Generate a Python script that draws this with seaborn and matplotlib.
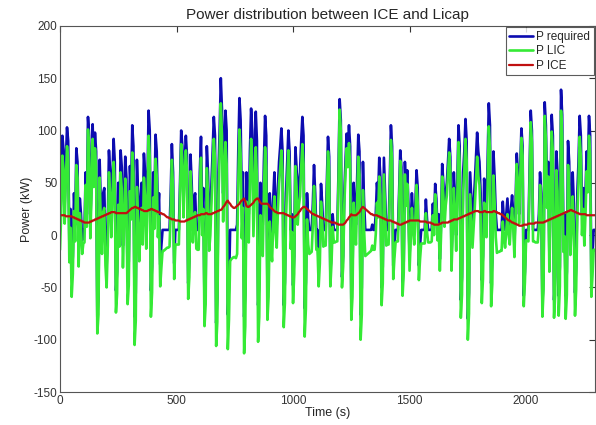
import numpy as np
import pandas as pd
import matplotlib
matplotlib.use("Agg")
import matplotlib.pyplot as plt
import seaborn as sns

# potencia requerida (kW), uma amostra a cada 5 s (uma linha = 100 s)
p_required = [
    5, 40, 95, 82, 30, 70, 103, 90, -8, 25, -41, -20, 40, 10, 83, 70, -15, 35, 20, -5,
    5, 5, 60, 20, 113, 95, 10, 50, 106, 60, 98, 80, -78, -60, 72, 30, 0, 40, 45, -10,
    -30, 10, 81, 60, 20, 55, 92, 70, -53, -35, 50, 10, 81, 65, -10, 30, 75, 55, -44, -25,
    66, 40, 105, 85, -78, -55, 72, 40, 0, 30, 50, 15, 78, 60, 10, 45, 119, 100, -53, -30,
    60, 30, 96, 80, 20, 40, -28, -10, 5, 5, 5, 5, 5, 5, 5, 40, 87, 60, -27, 5,
    5, 5, 5, 50, 100, 85, 30, 70, 95, 75, -46, -25, 77, 50, 10, 35, 40, 5, 5, 5,
    60, 94, 20, 45, -67, -45, 85, 60, 5, 20, 50, 80, 113, 95, -84, -60, 60, 100, 150, 120,
    40, 90, 119, 100, -76, -50, 5, 5, 5, 5, 5, 5, 10, 80, 131, 110, 30, 60, -78, -55,
    60, 30, 20, 80, 121, 100, 30, 75, 118, 90, -67, -45, 50, 20, 10, 70, 114, 95, -51, -30,
    40, 15, 0, 35, 60, 25, 10, 45, 70, 85, 102, 80, -67, -45, 40, 70, 100, 80, 5, 20,
    -48, -20, 84, 65, 30, 50, 60, 90, 113, 95, -70, -45, 40, 15, 5, 5, 5, 30, 67, 40,
    5, 5, -31, -10, 49, 30, 5, 5, 5, 50, 94, 75, -36, -15, 20, 5, 5, 5, 5, 60,
    130, 110, -40, -20, 40, 70, 97, 80, 105, 85, -61, -40, 50, 25, 10, 55, 96, 80, -76, -50,
    70, 30, 5, 5, 5, 5, 5, 5, 10, 5, 5, 20, 50, 35, 74, 55, -50, -30, 74, 40,
    5, 5, 5, 50, 105, 85, -29, -10, 5, 5, 5, 40, 81, 65, -47, -25, 70, 40, 62, 30,
    -20, 10, 40, 20, 5, 30, 62, 45, -29, -10, 5, 5, 5, 5, 34, 15, 5, 5, 5, 5,
    30, 10, 49, 35, 5, 20, -23, 10, 68, 50, 20, 40, 50, 70, 92, 75, -20, 15, 60, 35,
    0, 50, 105, 85, -62, -40, 60, 80, 111, 90, -80, -55, 60, 35, 10, 30, 50, 75, 98, 80,
    70, 40, -43, -20, 54, 35, 20, 70, 126, 105, -46, -25, 80, 55, 20, 5, 5, 5, 5, 5,
    32, 15, 5, 20, 35, 15, 5, 25, 38, 20, -10, 30, 78, 60, 20, 65, 102, 85, -58, -35,
    5, 5, 5, 60, 119, 100, 5, 5, 5, 5, 5, 20, 60, 40, -66, -40, 127, 105, 40, 70,
    -20, 40, 115, 95, -62, -40, 80, 60, -58, -30, 139, 115, 5, 20, -58, -35, 90, 70, 5, 30,
    60, 30, -55, -30, 40, 70, 114, 95, 20, 45, 10, 40, 80, 60, 114, 95, -40, -20, 5, 5,
]

# potencia do motor a combustao (kW), mesma amostragem
p_ice = [
    19, 19, 19, 19, 19, 18, 18, 18, 18, 18, 18, 17, 17, 16, 16, 15, 15, 14, 14, 13,
    13, 12, 12, 12, 12, 12, 13, 13, 14, 14, 15, 15, 16, 16, 17, 17, 18, 18, 19, 19,
    20, 20, 21, 21, 22, 22, 22, 22, 21, 21, 21, 21, 21, 21, 21, 21, 21, 21, 22, 23,
    24, 25, 26, 26, 27, 27, 26, 26, 25, 25, 24, 24, 23, 23, 23, 23, 24, 24, 25, 25,
    24, 24, 23, 23, 22, 22, 21, 21, 20, 20, 19, 18, 17, 17, 16, 16, 15, 15, 15, 14,
    14, 14, 14, 13, 13, 13, 13, 13, 14, 14, 15, 15, 16, 16, 17, 17, 18, 18, 19, 19,
    19, 20, 20, 20, 20, 21, 21, 20, 20, 20, 20, 21, 21, 22, 22, 23, 23, 24, 24, 25,
    27, 28, 30, 32, 33, 31, 30, 28, 27, 26, 26, 27, 28, 29, 30, 32, 33, 34, 35, 32,
    28, 27, 27, 28, 29, 30, 31, 33, 34, 35, 35, 33, 31, 30, 30, 30, 30, 30, 30, 29,
    27, 26, 25, 24, 23, 22, 22, 21, 21, 21, 21, 21, 21, 20, 20, 19, 19, 18, 18, 17,
    17, 17, 18, 19, 20, 22, 23, 25, 26, 27, 27, 26, 25, 24, 23, 22, 21, 20, 20, 19,
    19, 18, 18, 17, 17, 16, 16, 15, 15, 14, 14, 13, 13, 12, 12, 12, 12, 11, 11, 10,
    10, 10, 10, 10, 11, 12, 14, 15, 17, 18, 20, 19, 19, 19, 19, 20, 21, 22, 24, 26,
    27, 26, 25, 24, 23, 22, 21, 20, 20, 19, 19, 19, 19, 18, 18, 17, 17, 16, 16, 15,
    15, 14, 14, 14, 14, 13, 13, 12, 12, 11, 11, 10, 10, 10, 11, 11, 12, 12, 13, 13,
    14, 14, 14, 14, 14, 14, 14, 14, 14, 13, 13, 13, 13, 13, 13, 12, 12, 12, 12, 11,
    11, 10, 10, 10, 10, 10, 11, 11, 12, 12, 12, 12, 12, 12, 13, 13, 14, 14, 15, 15,
    15, 15, 16, 16, 17, 17, 18, 18, 19, 19, 20, 20, 21, 21, 22, 22, 23, 23, 23, 23,
    22, 22, 22, 22, 23, 23, 22, 22, 22, 22, 22, 22, 23, 23, 22, 22, 21, 21, 20, 20,
    19, 18, 17, 16, 15, 14, 14, 13, 12, 12, 11, 11, 10, 10, 9, 9, 9, 9, 10, 10,
    10, 10, 11, 11, 11, 11, 11, 11, 12, 12, 12, 12, 12, 12, 12, 12, 13, 13, 14, 14,
    15, 15, 16, 16, 17, 17, 18, 18, 19, 19, 20, 20, 21, 21, 22, 22, 23, 23, 24, 24,
    23, 23, 22, 22, 21, 21, 20, 20, 20, 20, 20, 20, 19, 19, 19, 19, 19, 19, 19, 19,
]

df = pd.DataFrame({"P required": p_required, "P ICE": p_ice})
df["time"] = np.arange(len(df)) * 5
# licap cobre a diferenca
df["P LIC"] = df["P required"] - df["P ICE"]

sns.set_style("white")
plt.rcParams["font.family"] = ["Liberation Sans", "DejaVu Sans"]
plt.rcParams["axes.unicode_minus"] = False

fig = plt.figure(figsize=(5.96, 4.25), dpi=100)
ax = fig.add_axes([0.1007, 0.0776, 0.8977, 0.8614])

sns.lineplot(data=df, x="time", y="P required", color="#0c0cb0", lw=1.9, label="P required", ax=ax)
sns.lineplot(data=df, x="time", y="P LIC", color="#35ea35", lw=1.9, label="P LIC", ax=ax)
sns.lineplot(data=df, x="time", y="P ICE", color="#c01010", lw=1.6, label="P ICE", ax=ax)

ax.set_xlim(0, 2296)
ax.set_ylim(-150, 200)
ax.set_xticks([0, 500, 1000, 1500, 2000])
ax.set_yticks(range(-150, 201, 50))
ax.tick_params(direction="in", length=4, top=True, right=True, labelsize=8.5, colors="#333333", pad=2)
for s in ax.spines.values():
    s.set_color("#555555")
    s.set_linewidth(0.8)

ax.set_xlabel("Time (s)", fontsize=9, labelpad=0)
ax.set_ylabel("Power (kW)", fontsize=9)
ax.yaxis.set_label_coords(-0.05, 0.5)
ax.set_title("Power distribution between ICE and Licap", fontsize=11, pad=5)

leg = ax.legend(loc="upper right", fontsize=8.5, frameon=True, fancybox=False,
                handlelength=2.0, handletextpad=0.3, borderpad=0.3, labelspacing=0.22,
                borderaxespad=0.1)
leg.get_frame().set_edgecolor("#333333")
leg.get_frame().set_linewidth(0.8)

fig.savefig("out.png", dpi=100)
